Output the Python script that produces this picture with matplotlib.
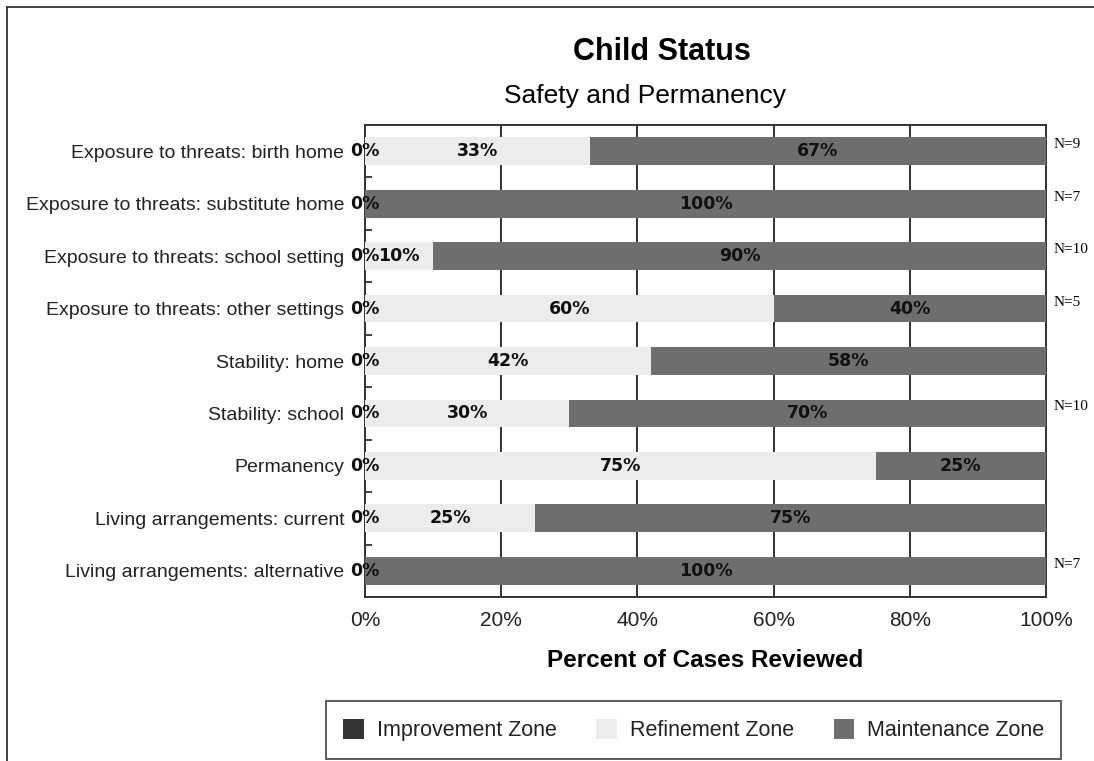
import numpy as np
import matplotlib
matplotlib.use('Agg')
import matplotlib.pyplot as plt
from matplotlib.lines import Line2D


categories = ['Exposure to threats: birth home',
              'Exposure to threats: substitute home',
              'Exposure to threats: school setting',
              'Exposure to threats: other settings',
              'Stability: home',
              'Stability: school',
              'Permanency',
              'Living arrangements: current',
              'Living arrangements: alternative']
improvement = [0, 0, 0, 0, 0, 0, 0, 0, 0]
refinement = [33, 0, 10, 60, 42, 30, 75, 25, 0]
maintenance = [67, 100, 90, 40, 58, 70, 25, 75, 100]
n_labels = ['N=9', 'N=7', 'N=10', 'N=5', '', 'N=10', '', '', 'N=7']
xticks = [0, 20, 40, 60, 80, 100]

c_imp = '#333333'
c_ref = '#ececec'
c_main = '#6e6e6e'

plt.rcParams['font.family'] = 'Liberation Sans'

fig = plt.figure(figsize=(10.94, 7.61), dpi=100)
ax = fig.add_axes([0.3336, 0.2155, 0.6225, 0.6202])

y = np.arange(len(categories))
imp = np.array(improvement)
ref = np.array(refinement)
mnt = np.array(maintenance)

h = 0.53
ax.barh(y, imp, height=h, color=c_imp, label='Improvement Zone', zorder=3)
ax.barh(y, ref, left=imp, height=h, color=c_ref, label='Refinement Zone', zorder=3)
ax.barh(y, mnt, left=imp + ref, height=h, color=c_main, label='Maintenance Zone', zorder=3)

lab_font = dict(family='DejaVu Sans', weight='bold', size=12.5, ha='center', va='center',
                color='#111111', zorder=5)
for i in range(len(categories)):
    ax.text(imp[i] / 2, y[i], '%d%%' % imp[i], **lab_font)
    if ref[i] > 0:
        ax.text(imp[i] + ref[i] / 2, y[i], '%d%%' % ref[i], **lab_font)
    if mnt[i] > 0:
        ax.text(imp[i] + ref[i] + mnt[i] / 2, y[i], '%d%%' % mnt[i], **lab_font)
    if n_labels[i]:
        ax.text(1.011, y[i], n_labels[i], transform=ax.get_yaxis_transform(),
                family='Liberation Serif', size=11, ha='left', va='bottom')

ax.set_xlim(0, 100)
ax.set_ylim(len(categories) - 0.5, -0.5)
ax.set_xticks(xticks)
ax.set_xticklabels(['%d%%' % v for v in xticks], fontsize=15, color='#222222')
ax.set_yticks(y)
ax.set_yticklabels(categories, fontsize=14, color='#222222')
ax.set_yticks(y[:-1] + 0.5, minor=True)
ax.tick_params(axis='y', which='major', length=0, pad=15)
ax.tick_params(axis='y', which='minor', length=5, width=1.3, direction='in', color='#333333')
ax.tick_params(axis='x', length=0, pad=10)
ax.grid(axis='x', color='#333333', linewidth=1.4, zorder=1)
for s in ax.spines.values():
    s.set_color('#333333')
    s.set_linewidth(1.4)

ax.set_xlabel('Percent of Cases Reviewed', fontsize=17.5, fontweight='bold', labelpad=14)

fig.text(0.605, 0.932, 'Child Status', fontsize=22, fontweight='bold', ha='center', va='center')
fig.text(0.59, 0.874, 'Safety and Permanency', fontsize=19, ha='center', va='center')

leg = ax.legend(loc='center', bbox_to_anchor=(0.634, 0.0407), bbox_transform=fig.transFigure,
                ncol=3, fontsize=15.5, frameon=True, fancybox=False, edgecolor='#222222',
                handlelength=0.95, handleheight=1.1, handletextpad=0.6, columnspacing=1.85,
                borderpad=0.8, borderaxespad=0)
leg.get_frame().set_linewidth(1.3)
for t in leg.get_texts():
    t.set_color('#222222')

# outer border of the original figure
fig.add_artist(Line2D([7 / 1094, 7 / 1094], [0, 1 - 7 / 761], color='#333333', lw=1.3,
                      transform=fig.transFigure))
fig.add_artist(Line2D([7 / 1094, 1], [1 - 7 / 761, 1 - 7 / 761], color='#333333', lw=1.3,
                      transform=fig.transFigure))

fig.savefig('out.png', dpi=100)
